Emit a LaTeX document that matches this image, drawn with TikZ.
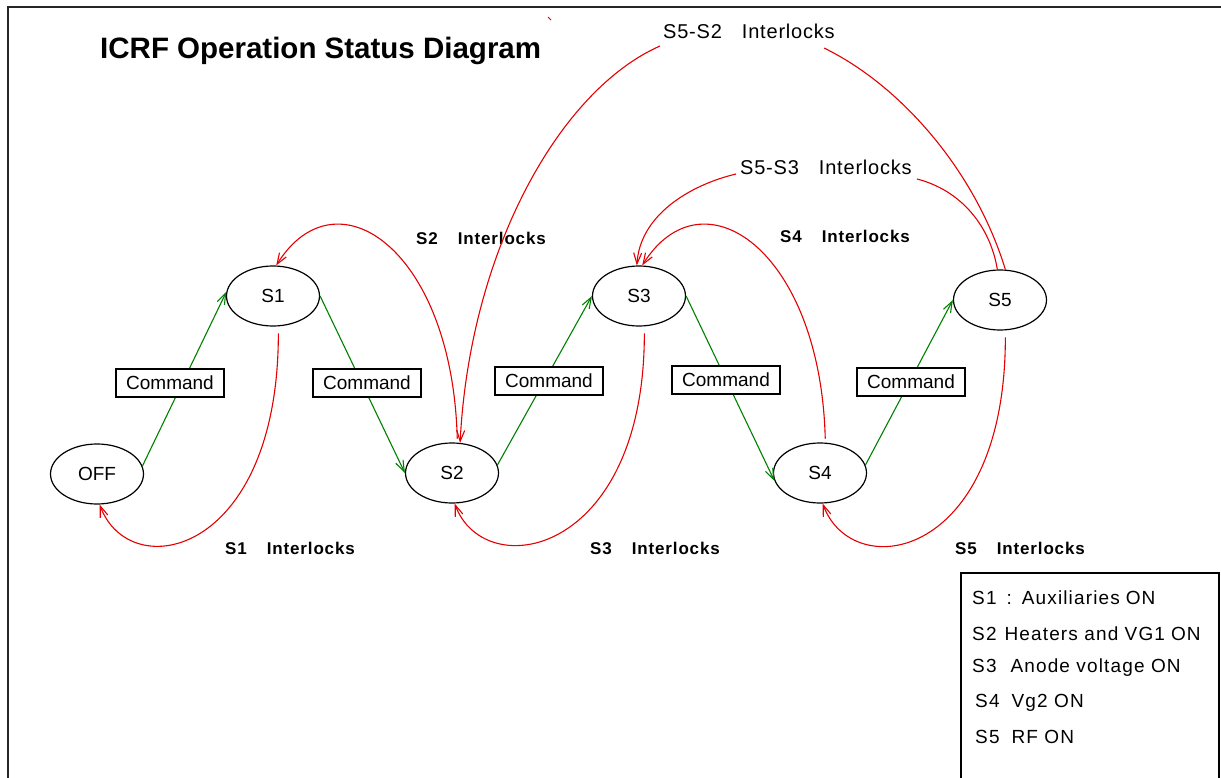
\documentclass[tikz,border=0pt]{standalone}
\usepackage{fontspec}
\setmainfont{Liberation Sans}
\newfontfamily\labelfont[LetterSpace=4]{Liberation Sans}
\newfontfamily\keyfont[LetterSpace=6]{Liberation Sans}
\newfontfamily\lockfont[LetterSpace=5]{Liberation Sans}
\usetikzlibrary{arrows.meta, shapes.geometric}
\definecolor{lockred}{RGB}{228,0,0}
\definecolor{cmdgreen}{RGB}{0,128,0}

\tikzset{
  state/.style={draw, ellipse, line width=1.2pt, minimum width=93pt, minimum height=60pt,
    font=\fontsize{19}{21}\selectfont},
  cmd/.style={draw, fill=white, line width=1.2pt, minimum width=108pt, minimum height=28pt,
    inner sep=0pt, font=\fontsize{19}{21}\selectfont},
  go/.style={cmdgreen, line width=1.1pt, -{Straight Barb[length=11pt,width=8pt]}},
  lock/.style={lockred, line width=1.1pt, -{Straight Barb[length=11pt,width=8pt]}},
  locktext/.style={anchor=west, inner sep=0pt, font=\lockfont\bfseries\fontsize{17}{19}\selectfont},
  linktext/.style={anchor=west, inner sep=0pt, font=\labelfont\fontsize{20}{22}\selectfont},
  keytext/.style={anchor=west, inner sep=0pt, font=\keyfont\fontsize{19}{21}\selectfont},
}

\begin{document}
\begin{tikzpicture}[x=1pt, y=-1pt]
  \useasboundingbox (0,0) rectangle (1221,778);
  \draw[line width=1.6pt, black!85] (8,778) -- (8,7) -- (1221,7);

  \node[anchor=west, inner sep=0pt, font=\bfseries\fontsize{29.5}{32}\selectfont] (title) at (100,51)
    {ICRF Operation Status Diagram};

  \node[state] (off) at (97,474) {OFF};
  \node[state] (s1) at (273,296) {S1};
  \node[state] (s2) at (452,473) {S2};
  \node[state] (s3) at (639,296) {S3};
  \node[state] (s4) at (820,473) {S4};
  \node[state] (s5) at (1000,300) {S5};

  \draw[go] (off.10) -- (s1.175);
  \draw[go] (s1.east) -- (s2.west);
  \draw[go] (s2.10) -- (s3.west);
  \draw[go] (s3.east) -- (s4.190);
  \draw[go] (s4.10) -- (s5.west);

  \node[cmd] (c1) at (170,383) {Command};
  \node[cmd] (c2) at (367,383) {Command};
  \node[cmd] (c3) at (549,381) {Command};
  \node[cmd] (c4) at (726,380) {Command};
  \node[cmd] (c5) at (911,382) {Command};

  \foreach \from/\to in {s1/off, s3/s2, s5/s4}
    \draw[lock, shorten <=7pt] (\from.-80) .. controls +(0,230) and +(30,81) .. (\to.-85);
  \foreach \from/\to in {s2/s1, s4/s3}
    \draw[lock, shorten <=4pt] (\from.80) .. controls +(-5,-193) and +(60,-96) .. (\to.84);

  \node[locktext] (lock1) at (225,548) {S1\hspace{20pt}Interlocks};
  \node[locktext] (lock3) at (590,548) {S3\hspace{20pt}Interlocks};
  \node[locktext] (lock5) at (955,548) {S5\hspace{20pt}Interlocks};
  \node[locktext] (lock2) at (416,238) {S2\hspace{20pt}Interlocks};
  \node[locktext] (lock4) at (780,236) {S4\hspace{20pt}Interlocks};

  \node[linktext] (link53) at (740,167) {S5-S3\hspace{20pt}Interlocks};
  \coordinate (link53r) at (917,179);
  \coordinate (link53l) at (736,174);
  \draw[lock] (s5.95) .. controls (990,225) and (960,190) .. (link53r)
    (link53l) .. controls (690,185) and (640,215) .. (s3.94);

  \node[linktext] (link52) at (663,31) {S5-S2\hspace{20pt}Interlocks};
  \coordinate (link52r) at (824,48);
  \coordinate (link52l) at (660,46);
  \draw[lock] (s5.80) .. controls (975,170) and (900,85) .. (link52r)
    (link52l) .. controls (560,90) and (470,250) .. (s2.75);
  \draw[lockred, line width=0.8pt] (548,17) -- (551,20);

  \draw[line width=1.2pt] (961,778) -- (961,573) -- (1219,573) -- (1219,778);
  \node[keytext] (key1) at (972,598) {S1\hspace{10pt}:\hspace{10pt}Auxiliaries\hspace{6pt}ON};
  \node[keytext] (key2) at (972,634) {S2\hspace{8pt}Heaters and VG1\hspace{6pt}ON};
  \node[keytext] (key3) at (972,668) {S3\hspace{14pt}Anode voltage ON};
  \node[keytext] (key4) at (975,703) {S4\hspace{12pt}Vg2 ON};
  \node[keytext] (key5) at (975,737) {S5\hspace{12pt}RF ON};
\end{tikzpicture}
\end{document}
